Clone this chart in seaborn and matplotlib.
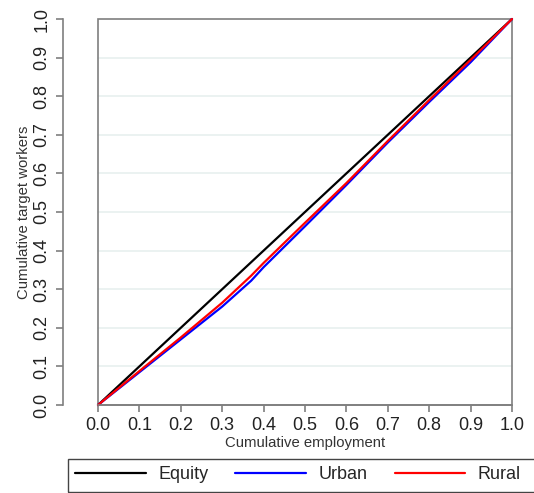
import matplotlib
matplotlib.use("Agg")
import matplotlib.pyplot as plt
import seaborn as sns
import pandas as pd
import numpy as np
from matplotlib.patches import Rectangle
from matplotlib.lines import Line2D

# Data
emp = [0.0, 0.1, 0.2, 0.3, 0.37, 0.4, 0.5, 0.6, 0.7, 0.8, 0.9, 1.0]
equity = [0.0, 0.1, 0.2, 0.3, 0.37, 0.4, 0.5, 0.6, 0.7, 0.8, 0.9, 1.0]
urban = [0.0, 0.085, 0.170, 0.255, 0.322, 0.357, 0.463, 0.570, 0.680, 0.785, 0.888, 1.0]
rural = [0.0, 0.088, 0.175, 0.265, 0.335, 0.368, 0.472, 0.575, 0.684, 0.790, 0.894, 1.0]
series_names = ["Equity", "Urban", "Rural"]
series_colors = ["black", "blue", "red"]
ticks = [0.0, 0.1, 0.2, 0.3, 0.4, 0.5, 0.6, 0.7, 0.8, 0.9, 1.0]

df = pd.DataFrame({
    "x": emp * 3,
    "y": equity + urban + rural,
    "series": [s for s in series_names for _ in emp],
})

sns.set_style("white")
plt.rcParams["font.family"] = ["Liberation Sans", "DejaVu Sans"]

W, H = 534, 493
fig = plt.figure(figsize=(W / 100, H / 100), dpi=100)
L, R, T, B = 98, 512, 19, 405
ax = fig.add_axes([L / W, 1 - B / H, (R - L) / W, (B - T) / H])

# gridlines
for t in ticks[1:-1]:
    ax.axhline(t, color="#e8f0ef", lw=1.2, zorder=0)

sns.lineplot(data=df, x="x", y="y", hue="series", hue_order=series_names,
             palette=series_colors, linewidth=1.6, ax=ax, legend=False,
             sort=False, estimator=None)
for ln in ax.lines:
    ln.set_clip_on(False)

ax.set_xlim(0, 1)
ax.set_ylim(0, 1)

# spines
for s in ["top", "right"]:
    ax.spines[s].set_visible(False)
gray = "#7f7f7f"
ax.spines["left"].set_position(("outward", 35 * 0.72))
ax.spines["left"].set_color(gray)
ax.spines["bottom"].set_color(gray)
ax.spines["left"].set_linewidth(1.2)
ax.spines["bottom"].set_linewidth(1.2)
ax.add_patch(Rectangle((0, 0), 1, 1, transform=ax.transAxes, fill=False,
                       edgecolor=gray, lw=1.2, clip_on=False, zorder=1))

ax.set_xticks(ticks)
ax.set_yticks(ticks)
ax.set_xticklabels([f"{t:.1f}" for t in ticks], fontsize=13)
ax.set_yticklabels([f"{t:.1f}" for t in ticks], fontsize=13, rotation=90, va="center")
ax.tick_params(axis="both", which="both", direction="out", length=5, width=1.2,
               color=gray, left=True, bottom=True, pad=4, labelcolor="#222222")

ax.set_xlabel("Cumulative employment", fontsize=10.7, labelpad=1, color="#333333")
ax.set_ylabel("Cumulative target workers", fontsize=10.7, labelpad=2, color="#333333")

handles = [Line2D([], [], color=c, lw=1.6) for c in series_colors]
leg = fig.legend(handles, series_names, loc="upper left",
                 bbox_to_anchor=(68 / W, 1 - 459 / H), ncol=3, fontsize=13,
                 frameon=False,
                 handlelength=3.9, handletextpad=0.7, columnspacing=1.5,
                 borderpad=0.4, borderaxespad=0)
fig.add_artist(Rectangle((68 / W, 1 - 492 / H), 480 / W, 33 / H,
                         transform=fig.transFigure, fill=False,
                         edgecolor="#444444", lw=1.0))

fig.savefig("out.png", dpi=100)
